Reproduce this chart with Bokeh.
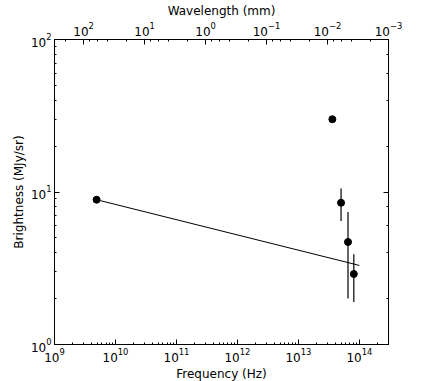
from bokeh.plotting import figure
from bokeh.models import Range1d, LogAxis, LogTicker, ColumnDataSource, CustomJSTickFormatter
from bokeh.embed import file_html
from bokeh.resources import INLINE

# Data
freq = [4.9e9, 3.6e13, 5.0e13, 6.5e13, 8.1e13]          # Hz
bright = [8.9, 30.0, 8.5, 4.7, 2.9]                     # MJy/sr
err = [0.0, 0.0, 2.05, 2.7, 1.0]                        # MJy/sr
fit_freq = [4.9e9, 1.0e14]
fit_bright = [8.9, 3.3]

FREQ_MIN, FREQ_MAX = 1e9, 3e14
Y_MIN, Y_MAX = 1.0, 100.0
C_MM = 3e11  # speed of light, mm/s

FONT = "DejaVu Sans"

p = figure(frame_width=334, frame_height=305, x_axis_type="log", y_axis_type="log",
           x_range=Range1d(FREQ_MIN, FREQ_MAX), y_range=Range1d(Y_MIN, Y_MAX),
           output_backend="svg", toolbar_location=None,
           min_border_left=54, min_border_right=25, min_border_top=36, min_border_bottom=34,
           background_fill_color="white", border_fill_color="white")
p.xgrid.visible = False
p.ygrid.visible = False
p.outline_line_color = "black"
p.outline_line_width = 1

bottom = p.below[0]
left = p.left[0]

p.extra_x_ranges = {"wl": Range1d(C_MM / FREQ_MIN, C_MM / FREQ_MAX)}
top = LogAxis(x_range_name="wl", axis_label="Wavelength (mm)", ticker=LogTicker())
p.add_layout(top, "above")
right = LogAxis(ticker=LogTicker(), formatter=CustomJSTickFormatter(code="return ' '"))
right.major_label_standoff = 0
p.add_layout(right, "right")

for ax in [bottom, left, top, right]:
    ax.major_tick_in = 5
    ax.major_tick_out = 0
    ax.minor_tick_in = 2
    ax.minor_tick_out = 0
    ax.axis_line_color = "black"
    ax.major_tick_line_color = "black"
    ax.minor_tick_line_color = "black"
    ax.major_label_text_font = FONT
    ax.major_label_text_color = "black"
    ax.major_label_text_font_size = "12px"
    ax.axis_label_text_font = FONT
    ax.axis_label_text_font_style = "normal"
    ax.axis_label_text_color = "black"
    ax.axis_label_text_font_size = "12px"
    ax.axis_label_standoff = 2
for ax in [bottom, left]:
    ax.major_label_standoff = 3
top.major_label_standoff = 4
top.axis_label_standoff = 1
top.axis_label_text_line_height = 0.9
top.major_label_text_line_height = 0.9

bottom.axis_label = "Frequency (Hz)"
left.axis_label = "Brightness (MJy/sr)"

src = ColumnDataSource(dict(x=freq, y=bright,
                            lo=[b - e for b, e in zip(bright, err)],
                            hi=[b + e for b, e in zip(bright, err)]))
p.line(fit_freq, fit_bright, line_color="black", line_width=1)
p.segment(x0="x", x1="x", y0="lo", y1="hi", source=src, line_color="black", line_width=1.2)
p.scatter("x", "y", source=src, size=7, color="black")

open("out.html", "w").write(file_html(p, INLINE))
